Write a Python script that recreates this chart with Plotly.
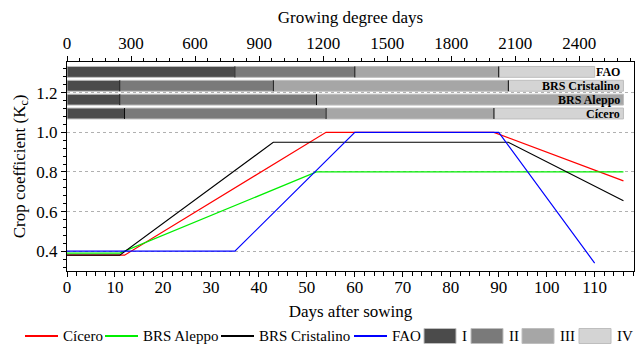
import plotly.graph_objects as go

# ---------------- data ----------------
# Kc curves (days after sowing -> crop coefficient)
cicero_days = [0, 12, 54, 89, 116]
cicero_kc = [0.38, 0.38, 1.00, 1.00, 0.755]
aleppo_days = [0, 11, 52, 116]
aleppo_kc = [0.39, 0.39, 0.80, 0.80]
cristalino_days = [0, 11, 43, 92, 116]
cristalino_kc = [0.38, 0.38, 0.95, 0.95, 0.655]
fao_days = [0, 35, 60, 90, 110]
fao_kc = [0.40, 0.40, 1.00, 1.00, 0.34]

# phenological stage boundaries (days after sowing)
stage_names = ["I", "II", "III", "IV"]
bar_rows = ["FAO", "BRS Cristalino", "BRS Aleppo", "Cícero"]
fao_stages = [0, 35, 60, 90, 110]
cristalino_stages = [0, 11, 43, 92, 116]
aleppo_stages = [0, 11, 52, 116]
cicero_stages = [0, 12, 54, 89, 116]

series_names = ["Cícero", "BRS Aleppo", "BRS Cristalino", "FAO"]

day_range = [0, 118.2]
gdd_range = [0, 2656]
kc_range = [0.30, 1.355]

# ---------------- styles / layout constants ----------------
LINE_COLORS = ["#FF0000", "#00EE00", "#000000", "#0000FF"]
STAGE_COLORS = ["#4B4B4B", "#7A7A7A", "#A6A6A6", "#D4D4D4"]
ROW_Y = [1.305, 1.235, 1.165, 1.095]
BAR_H = 0.055
FONT = "Liberation Serif, Times New Roman, Times, serif"

W, H = 638, 348
ML, MR, MT, MB = 67, 4, 62, 77
PW, PH = W - ML - MR, H - MT - MB


def px_x(px):
    return (px - ML) / PW


def px_y(py):
    return (H - MB - py) / PH


fig = go.Figure()

# stage bars
row_stages = [fao_stages, cristalino_stages, aleppo_stages, cicero_stages]
for s, name in enumerate(stage_names):
    ys, bases, lens = [], [], []
    for r, st in enumerate(row_stages):
        if s + 1 < len(st):
            ys.append(ROW_Y[r])
            bases.append(st[s])
            lens.append(st[s + 1] - st[s])
    fig.add_trace(go.Bar(
        orientation="h", y=ys, x=lens, base=bases, width=BAR_H, name=name,
        marker=dict(color=STAGE_COLORS[s], line=dict(color="#BEBEBE", width=1)),
        showlegend=False, hoverinfo="skip",
    ))

shapes = []
# black dividers between stages
for r, st in enumerate(row_stages):
    for b in st[1:-1]:
        shapes.append(dict(type="line", xref="x", yref="y", x0=b, x1=b,
                           y0=ROW_Y[r] - BAR_H / 2, y1=ROW_Y[r] + BAR_H / 2,
                           line=dict(color="black", width=1)))

# Kc lines
curves = [(cicero_days, cicero_kc), (aleppo_days, aleppo_kc),
          (cristalino_days, cristalino_kc), (fao_days, fao_kc)]
for (xd, yd), nm, col in zip(curves, series_names, LINE_COLORS):
    fig.add_trace(go.Scatter(x=xd, y=yd, mode="lines", name=nm,
                             line=dict(color=col, width=1.2),
                             showlegend=False, hoverinfo="skip"))

# invisible trace that activates the top GDD axis
fig.add_trace(go.Scatter(x=gdd_range, y=kc_range, xaxis="x2", mode="markers",
                         marker=dict(opacity=0), showlegend=False, hoverinfo="skip"))

annotations = []
label_x = max(st[-1] for st in row_stages)
for r, nm in enumerate(bar_rows):
    annotations.append(dict(x=label_x, y=ROW_Y[r], xref="x", yref="y", text="<b>%s</b>" % nm,
                            showarrow=False, xanchor="right", yanchor="middle", xshift=-1,
                            font=dict(family=FONT, size=12, color="black")))

# manual legend
LEG_Y = 336
line_x = [25, 105, 221, 354]
for x0, nm, col in zip(line_x, series_names, LINE_COLORS):
    shapes.append(dict(type="line", xref="paper", yref="paper",
                       x0=px_x(x0), x1=px_x(x0 + 33), y0=px_y(LEG_Y), y1=px_y(LEG_Y),
                       line=dict(color=col, width=2)))
    annotations.append(dict(x=px_x(x0 + 36), y=px_y(LEG_Y), xref="paper", yref="paper",
                            text=nm, showarrow=False, xanchor="left", yanchor="middle",
                            font=dict(family=FONT, size=15, color="black")))
box_x = [424, 471, 522, 579]
for x0, nm, col in zip(box_x, stage_names, STAGE_COLORS):
    shapes.append(dict(type="rect", xref="paper", yref="paper",
                       x0=px_x(x0), x1=px_x(x0 + 32), y0=px_y(LEG_Y - 7.5), y1=px_y(LEG_Y + 7.5),
                       fillcolor=col, line=dict(color="#BEBEBE", width=1)))
    annotations.append(dict(x=px_x(x0 + 36), y=px_y(LEG_Y), xref="paper", yref="paper",
                            text=nm, showarrow=False, xanchor="left", yanchor="middle",
                            font=dict(family=FONT, size=15, color="black")))

axis_common = dict(ticks="outside", ticklen=5, tickcolor="black", showline=True,
                   linecolor="black", linewidth=1, zeroline=False,
                   tickfont=dict(family=FONT, size=17, color="black"))

fig.update_layout(
    width=W, height=H, margin=dict(l=ML, r=MR, t=MT, b=MB),
    paper_bgcolor="white", plot_bgcolor="white",
    font=dict(family=FONT, size=17, color="black"),
    barmode="overlay", showlegend=False,
    shapes=shapes, annotations=annotations,
    xaxis=dict(range=day_range, dtick=10, tick0=0, showgrid=False, ticklabelstandoff=-4,
               minor=dict(dtick=2, ticks="outside", ticklen=4, tickcolor="black", showgrid=False),
               title=dict(text="Days after sowing", standoff=8,
                          font=dict(family=FONT, size=17)),
               **axis_common),
    xaxis2=dict(range=gdd_range, dtick=300, tick0=0, overlaying="x", side="top",
                showgrid=False,
                minor=dict(dtick=60, ticks="outside", ticklen=3, tickcolor="black", showgrid=False),
                title=dict(text="Growing degree days", standoff=6,
                           font=dict(family=FONT, size=17)),
                **axis_common),
    yaxis=dict(range=kc_range, dtick=0.2, tick0=0, tickformat=".1f",
               showgrid=True, gridcolor="#B0B0B0", gridwidth=1, griddash="3px,3px",
               mirror=True,
               minor=dict(dtick=0.04, ticks="outside", ticklen=3, tickcolor="black", showgrid=False),
               title=dict(text="Crop coefficient (K<sub>c</sub>)", standoff=6,
                          font=dict(family=FONT, size=17)),
               **axis_common),
)

fig.write_html("out.html")
